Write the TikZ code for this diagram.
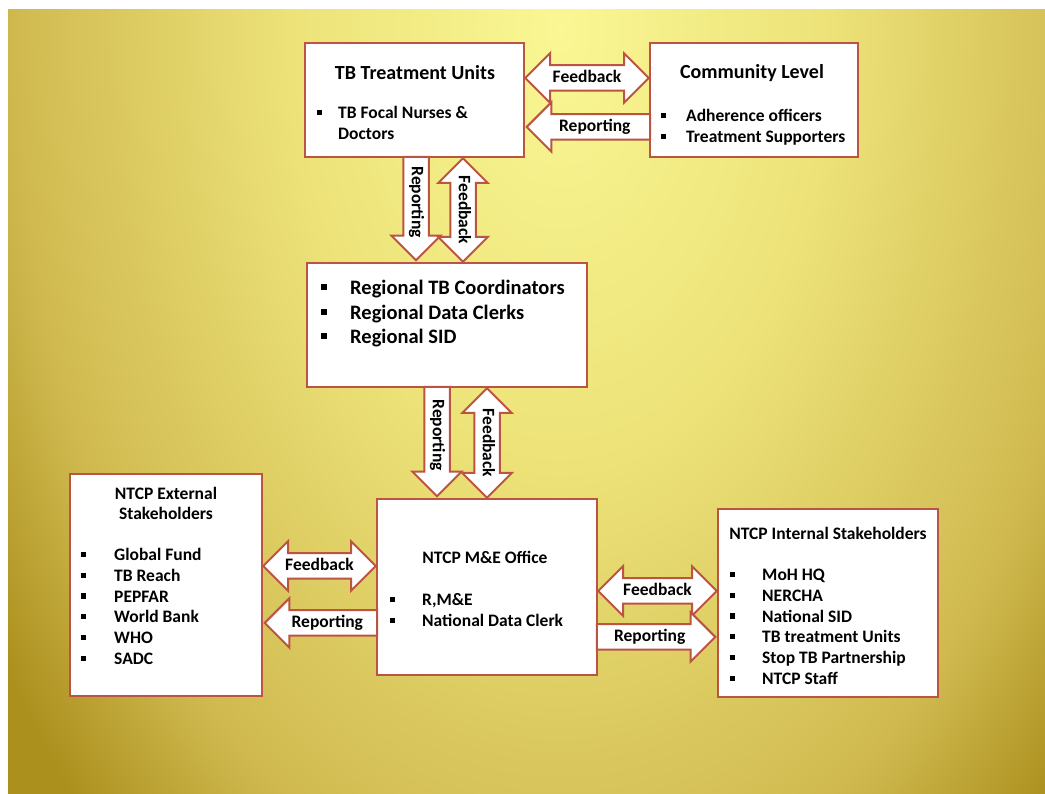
\documentclass[tikz,border=0pt]{standalone}
\usepackage{fontspec}
\setmainfont{Carlito}
\usetikzlibrary{calc,shapes.arrows}

\definecolor{boxline}{RGB}{188,84,68}
\definecolor{bgA}{RGB}{250,247,148}
\definecolor{bgB}{RGB}{236,226,120}
\definecolor{bgC}{RGB}{208,186,80}
\definecolor{bgD}{RGB}{172,144,30}
\pgfdeclareradialshading{tbglow}{\pgfpoint{0bp}{0bp}}{color(0bp)=(bgA); color(10bp)=(bgB); color(20bp)=(bgC); color(25bp)=(bgD); color(50bp)=(bgD)}

\newcommand{\sqb}{\rule[0.2em]{0.3em}{0.3em}}
\newcommand{\titlefont}{\fontsize{20}{24}\selectfont\bfseries}
\newcommand{\itemfont}{\fontsize{17.5}{20.8}\selectfont\bfseries}
\newcommand{\regfont}{\fontsize{20.5}{24.5}\selectfont\bfseries}

\tikzset{
  stage/.style={draw=boxline, line width=2.5pt, fill=white},
  fatarrow/.style={single arrow, draw=boxline, line width=2pt, fill=white, font=\itemfont,
    text height=12pt, text depth=3.5pt, inner xsep=1pt, inner ysep=4pt, single arrow head extend=12pt},
  fatboth/.style={double arrow, draw=boxline, line width=2pt, fill=white, font=\itemfont,
    text height=12pt, text depth=3.5pt, inner xsep=0pt, inner ysep=4pt, double arrow head extend=12pt},
  itemlist/.style={anchor=base west, inner sep=0pt, font=\itemfont},
}

\begin{document}
\begin{tikzpicture}[x=1pt, y=1pt]
  \useasboundingbox (0,0) rectangle (1045,794);
  % background
  \fill[bgD] (8,0) rectangle (1045,784);
  \begin{scope}
    \clip (8,0) rectangle (1045,784);
    \shade[shading=tbglow] (560,764) ellipse [x radius=680, y radius=1100];
  \end{scope}

  % boxes
  \node[stage, minimum width=219pt, minimum height=114pt] (tbu) at (414.5,694) {};
  \node[stage, minimum width=208pt, minimum height=114pt] (com) at (754,694) {};
  \node[stage, minimum width=280pt, minimum height=124pt] (reg) at (447,469) {};
  \node[stage, minimum width=220pt, minimum height=176pt] (mne) at (487,207) {};
  \node[stage, minimum width=192pt, minimum height=222pt] (ext) at (166,209) {};
  \node[stage, minimum width=220pt, minimum height=188pt] (int) at (828,191) {};

  % box texts
  \node[font=\titlefont] (tbuT) at (415,721) {TB Treatment Units};
  \node[itemlist] (tbuL) at (316.5,675.4) {\begin{tabular}[t]{@{}p{21.5pt}@{}l@{}}\sqb & TB Focal Nurses \&\\ & Doctors\end{tabular}};
  \node[font=\titlefont] (comT) at (752,721) {Community Level};
  \node[itemlist] (comL) at (660.5,672.4) {\begin{tabular}[t]{@{}p{25.5pt}@{}l@{}}\sqb & Adherence officers\\ \sqb & Treatment Supporters\end{tabular}};
  \node[itemlist, font=\regfont] (regL) at (320.5,499.4) {\begin{tabular}[t]{@{}p{29.5pt}@{}l@{}}\sqb & Regional TB Coordinators\\ \sqb & Regional Data Clerks\\ \sqb & Regional SID\end{tabular}};
  \node[font=\itemfont] (mneT) at (485,237) {NTCP M\&E Office};
  \node[itemlist] (mneL) at (389.5,188.4) {\begin{tabular}[t]{@{}p{32.5pt}@{}l@{}}\sqb & R,M\&E\\ \sqb & National Data Clerk\end{tabular}};
  \node[font=\itemfont, align=center] (extT) at (166,290.5) {NTCP External\\Stakeholders};
  \node[itemlist] (extL) at (80.5,233.4) {\begin{tabular}[t]{@{}p{33.5pt}@{}l@{}}\sqb & Global Fund\\ \sqb & TB Reach\\ \sqb & PEPFAR\\ \sqb & World Bank\\ \sqb & WHO\\ \sqb & SADC\end{tabular}};
  \node[font=\itemfont] (intT) at (828,261) {NTCP Internal Stakeholders};
  \node[itemlist] (intL) at (729.5,213.4) {\begin{tabular}[t]{@{}p{32.5pt}@{}l@{}}\sqb & MoH HQ\\ \sqb & NERCHA\\ \sqb & National SID\\ \sqb & TB treatment Units\\ \sqb & Stop TB Partnership\\ \sqb & NTCP Staff\end{tabular}};

  % block arrows
  \path let \p1=(tbu.east), \p2=(com.west) in
    node[fatarrow, shape border rotate=180, anchor=tip, minimum height=\x2-\x1] (repTop) at (\x1,667) {Reporting};
  \path let \p1=(tbu.east), \p2=(com.west) in
    node[fatboth, minimum height=\x2-\x1] (fbTop) at ({(\x1+\x2)/2},716) {Feedback};
  \path let \p1=(tbu.south), \p2=(reg.north) in
    node[fatarrow, rotate=-90, anchor=tip, minimum height=\y1-\y2] (repUp) at (416,\y2) {Reporting};
  \path let \p1=(tbu.south), \p2=(reg.north) in
    node[fatboth, rotate=-90, minimum height=\y1-\y2] (fbUp) at (463,{(\y1+\y2)/2}) {Feedback};
  \path let \p1=(reg.south), \p2=(mne.north) in
    node[fatarrow, rotate=-90, anchor=tip, minimum height=\y1-\y2] (repMid) at (437,\y2) {Reporting};
  \path let \p1=(reg.south), \p2=(mne.north) in
    node[fatboth, rotate=-90, minimum height=\y1-\y2] (fbMid) at (487,{(\y1+\y2)/2}) {Feedback};
  \path let \p1=(ext.east), \p2=(mne.west) in
    node[fatboth, minimum height=\x2-\x1] (fbExt) at ({(\x1+\x2)/2},228) {Feedback};
  \path let \p1=(ext.east), \p2=(mne.west) in
    node[fatarrow, shape border rotate=180, anchor=tip, minimum height=\x2-\x1] (repExt) at (\x1,171) {Reporting};
  \path let \p1=(mne.east), \p2=(int.west) in
    node[fatboth, minimum height=\x2-\x1] (fbInt) at ({(\x1+\x2)/2},203) {Feedback};
  \path let \p1=(mne.east), \p2=(int.west) in
    node[fatarrow, anchor=tip, minimum height=\x2-\x1] (repInt) at (\x2,157) {Reporting};
\end{tikzpicture}
\end{document}
